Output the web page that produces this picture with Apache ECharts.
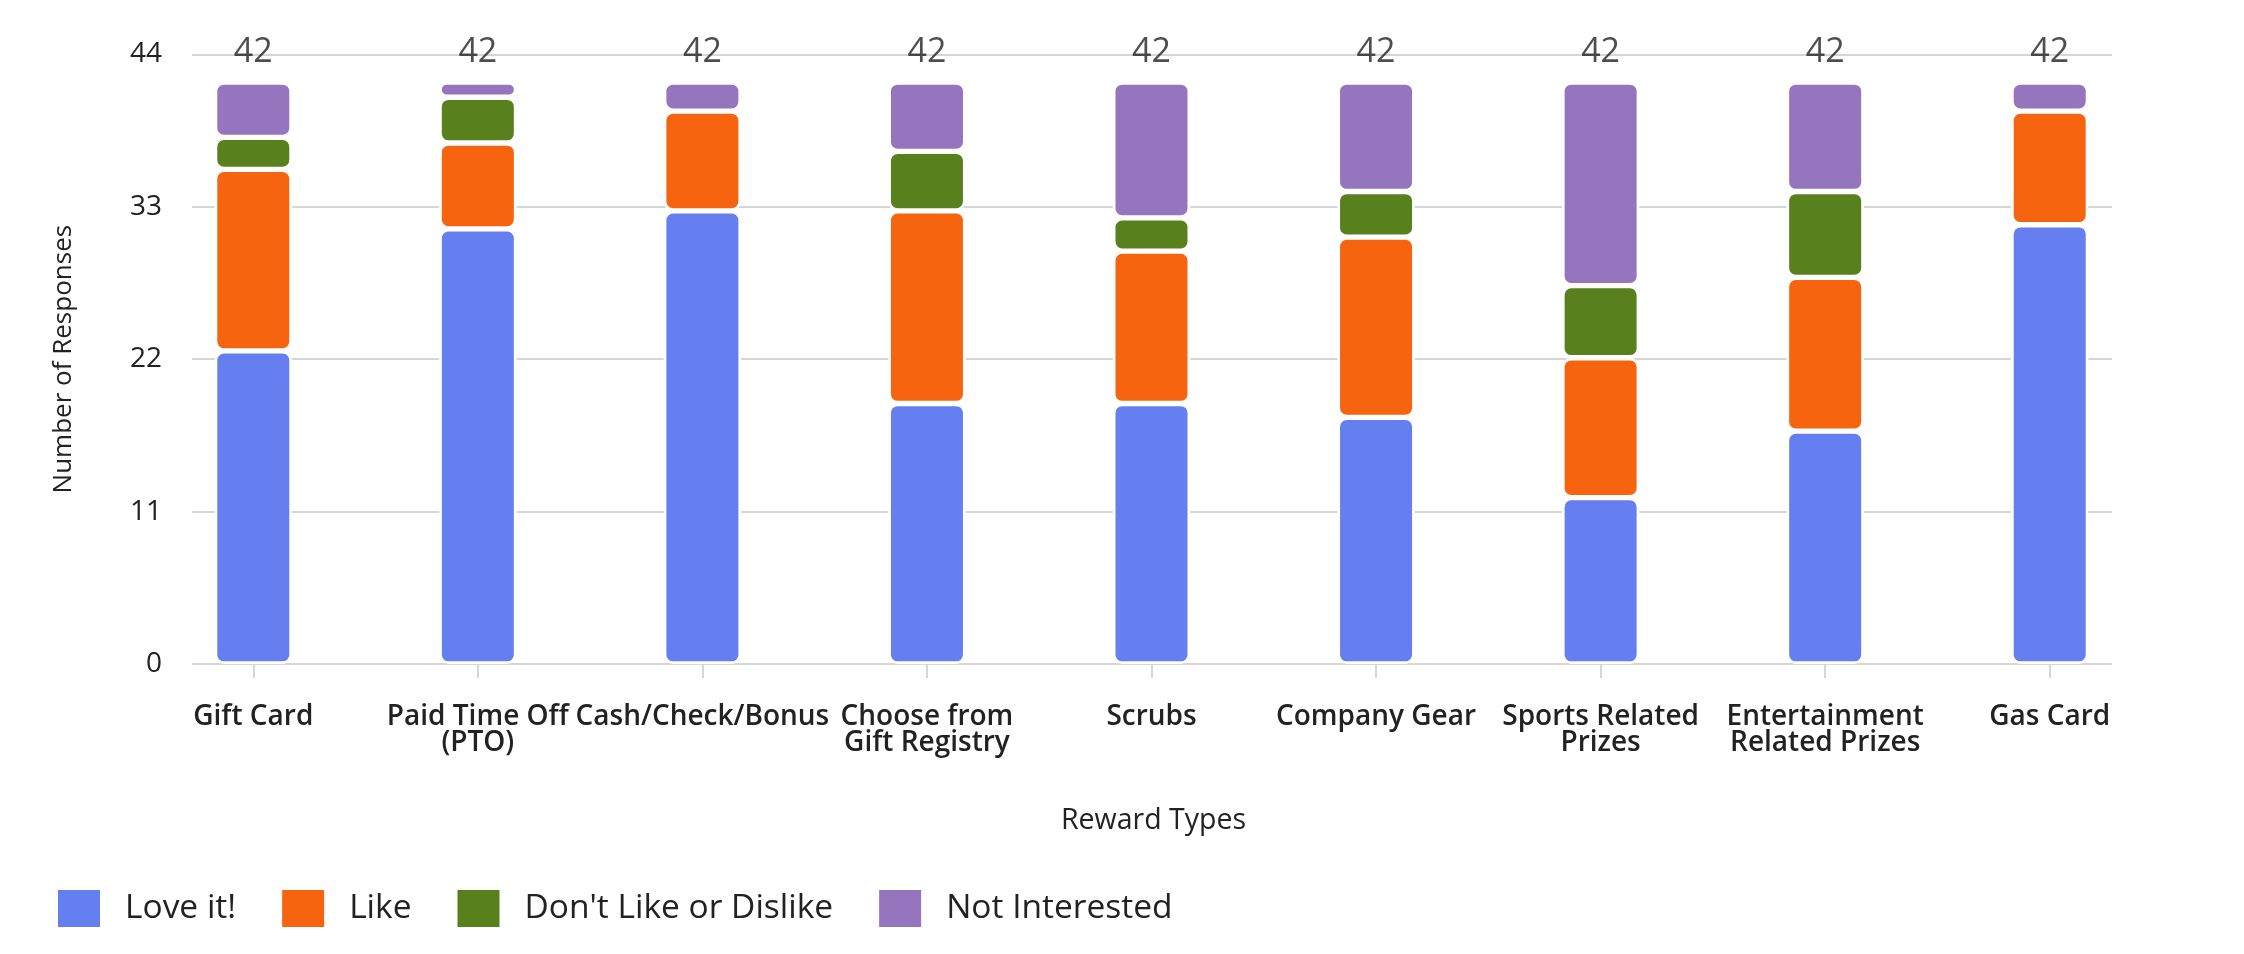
<!DOCTYPE html>
<html>
<head>
<meta charset="utf-8">
<script src="https://cdn.jsdelivr.net/npm/echarts@6/dist/echarts.min.js"></script>
<style>
  html, body { margin: 0; padding: 0; background: #ffffff; }
  #chart { width: 2244px; height: 954px; }
</style>
</head>
<body>
<div id="chart"></div>
<script>
// ---- data ----
const categories = ['Gift Card', 'Paid Time Off (PTO)', 'Cash/Check/Bonus', 'Choose from Gift Registry', 'Scrubs', 'Company Gear', 'Sports Related Prizes', 'Entertainment Related Prizes', 'Gas Card'];
const tickLabels = ['Gift Card', 'Paid Time Off\n(PTO)', 'Cash/Check/Bonus', 'Choose from\nGift Registry', 'Scrubs', 'Company Gear', 'Sports Related\nPrizes', 'Entertainment\nRelated Prizes', 'Gas Card'];
const loveIt        = [22.6, 31.4, 32.7, 18.8, 18.8, 17.8, 12.0, 16.8, 31.7];
const like          = [13.1,  6.2,  7.2, 13.9, 11.0, 13.0, 10.1, 11.1,  8.2];
const neutral       = [ 2.3,  3.3,  0,    4.3,  2.4,  3.3,  5.2,  6.2,  0  ];
const notInterested = [ 4.0,  1.1,  2.1,  5.0,  9.8,  7.9, 14.7,  7.9,  2.1];
const totals        = [42, 42, 42, 42, 42, 42, 42, 42, 42];
const seriesNames   = ['Love it!', 'Like', "Don't Like or Dislike", 'Not Interested'];
const seriesColors  = ['#657EF0', '#F7640F', '#58801C', '#9475BE'];
const yMin = 0, yMax = 44, yInterval = 11;

const FONT = '"Open Sans", "Noto Sans", sans-serif';
const TEXT = '#222222';
const GRIDC = '#d6d6d6';

const chart = echarts.init(document.getElementById('chart'), null, { renderer: 'canvas' });

function barSeries(name, data, color) {
  return {
    name: name,
    type: 'bar',
    stack: 'total',
    xAxisIndex: 0,
    yAxisIndex: 0,
    barWidth: 77.3,
    data: data,
    itemStyle: { color: color, borderColor: '#ffffff', borderWidth: 2.65, borderRadius: 8 },
    emphasis: { disabled: true }
  };
}

const option = {
  animation: false,
  backgroundColor: '#ffffff',
  textStyle: { fontFamily: FONT },
  grid: [
    { left: 141, right: 82, top: 54.3, bottom: 290, containLabel: false },
    { left: 192, right: 132, top: 54.3, bottom: 290, containLabel: false }
  ],
  legend: {
    data: seriesNames,
    left: 58,
    top: 890,
    padding: 0,
    icon: 'rect',
    itemWidth: 42,
    itemHeight: 37,
    itemGap: 46,
    itemStyle: { borderWidth: 0 },
    selectedMode: false,
    textStyle: { fontFamily: FONT, fontSize: 33.5, color: TEXT, lineHeight: 37, padding: [0, 0, 0, 20] }
  },
  xAxis: [
    {
      type: 'category',
      gridIndex: 0,
      data: categories,
      axisLine: { show: false },
      axisTick: { show: true, alignWithLabel: true, length: 14, lineStyle: { color: GRIDC, width: 2 } },
      axisLabel: {
        interval: 0,
        margin: 40,
        fontFamily: FONT,
        fontSize: 28,
        fontWeight: 600,
        color: TEXT,
        lineHeight: 26,
        formatter: function (v, i) { return tickLabels[i]; }
      },
      name: 'Reward Types',
      nameLocation: 'middle',
      nameGap: 142,
      nameTextStyle: { fontFamily: FONT, fontSize: 28.5, color: TEXT, padding: [0, 0, 0, 4] }
    },
    { type: 'value', gridIndex: 1, show: false }
  ],
  yAxis: [
    { type: 'value', gridIndex: 0, min: yMin, max: yMax, interval: yInterval, show: false },
    {
      type: 'value',
      gridIndex: 1,
      min: yMin, max: yMax, interval: yInterval,
      axisLine: { show: false },
      axisTick: { show: false },
      splitLine: { show: true, lineStyle: { color: GRIDC, width: 2 } },
      axisLabel: { margin: 30, fontFamily: FONT, fontSize: 28, color: TEXT },
      name: 'Number of Responses',
      nameLocation: 'middle',
      nameGap: 115,
      nameTextStyle: { fontFamily: FONT, fontSize: 26, color: TEXT }
    }
  ],
  series: [
    barSeries(seriesNames[0], loveIt, seriesColors[0]),
    barSeries(seriesNames[1], like, seriesColors[1]),
    barSeries(seriesNames[2], neutral, seriesColors[2]),
    barSeries(seriesNames[3], notInterested, seriesColors[3]),
    {
      name: 'Total',
      type: 'scatter',
      xAxisIndex: 0,
      yAxisIndex: 0,
      symbolSize: 0,
      silent: true,
      data: totals,
      z: 5,
      label: {
        show: true,
        position: 'top',
        distance: 13,
        fontFamily: FONT,
        fontSize: 34,
        lineHeight: 34,
        color: TEXT,
        formatter: function (p) { return String(p.value); }
      }
    }
  ]
};

chart.setOption(option);
</script>
</body>
</html>
